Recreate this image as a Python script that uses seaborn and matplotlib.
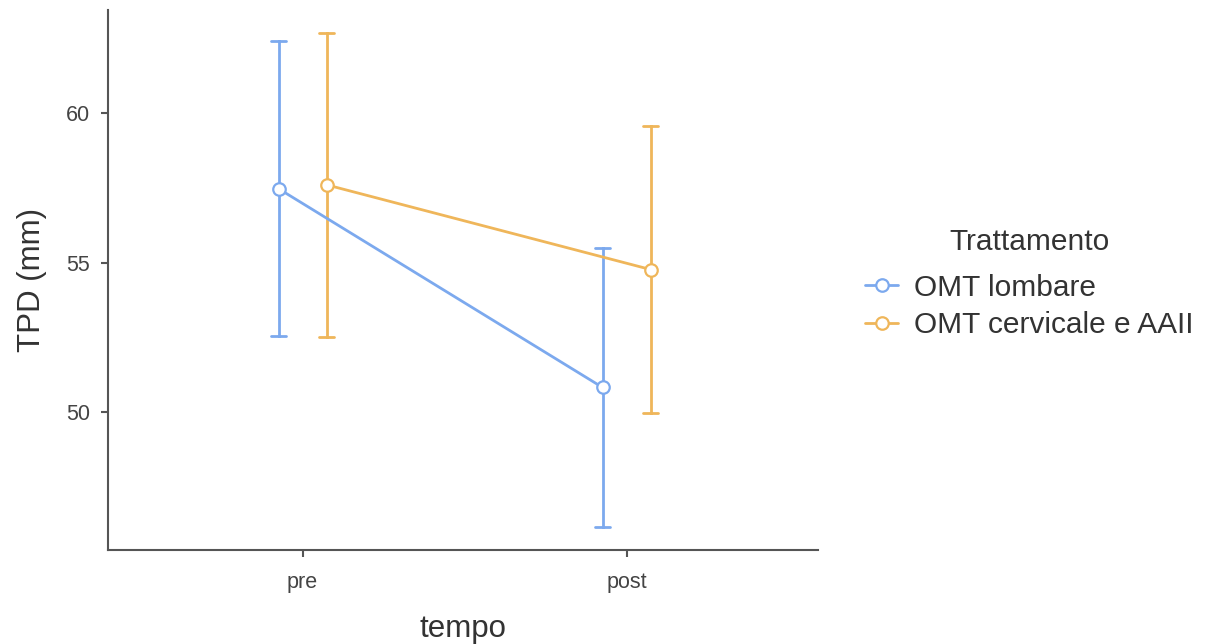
import matplotlib
matplotlib.use("Agg")
import matplotlib.pyplot as plt
from matplotlib.lines import Line2D
import seaborn as sns
import pandas as pd

# values (mean and half-width of the error bar)
tempo = ["pre", "post"]
gruppi = ["OMT lombare", "OMT cervicale e AAII"]
media_lombare = [57.47, 50.83]
media_cervicale = [57.60, 54.77]
err_lombare = [4.92, 4.65]
err_cervicale = [5.07, 4.80]

colori = ["#7ca9ee", "#efb65a"]

# two rows per cell (mean - err, mean + err): mean gives the point, pi 100 gives the bar
rows = []
for g, medie, errs in [(gruppi[0], media_lombare, err_lombare),
                       (gruppi[1], media_cervicale, err_cervicale)]:
    for t, m, e in zip(tempo, medie, errs):
        rows.append({"tempo": t, "Trattamento": g, "TPD": m - e})
        rows.append({"tempo": t, "Trattamento": g, "TPD": m + e})
df = pd.DataFrame(rows)

sns.set_style("ticks")
plt.rcParams["font.family"] = ["Liberation Sans", "DejaVu Sans"]

fig = plt.figure(figsize=(12.15, 6.44), dpi=100)
ax = fig.add_axes([0.089, 0.146, 0.584, 0.838])

sns.pointplot(data=df, x="tempo", y="TPD", hue="Trattamento", order=tempo,
              hue_order=gruppi, palette=colori, estimator="mean",
              errorbar=("pi", 100), dodge=0.148, capsize=0.045,
              err_kws={"linewidth": 2}, linewidth=2,
              markersize=9, markeredgewidth=1.6, legend=False, ax=ax)

# white-filled markers as in the reference
for ln in ax.lines:
    if ln.get_marker() not in (None, "None", ""):
        ln.set_markerfacecolor("white")
        ln.set_zorder(5)

ax.set_xlim(-0.6, 1.59)
ax.set_ylim(45.4, 63.43)
ax.set_yticks([50, 55, 60])

for side in ["top", "right"]:
    ax.spines[side].set_visible(False)
for side in ["left", "bottom"]:
    ax.spines[side].set_color("#555555")
    ax.spines[side].set_linewidth(1.5)
ax.tick_params(colors="#555555", labelcolor="#444444", labelsize=15.5,
               length=5, width=1.5)
ax.tick_params(axis="x", pad=11)
ax.tick_params(axis="y", pad=8)

ax.set_xlabel("tempo", fontsize=22.5, color="#333333", labelpad=15)
ax.set_ylabel("TPD (mm)", fontsize=22.5, color="#333333", labelpad=14)

handles = [Line2D([], [], color=c, marker="o", markerfacecolor="white",
                  markersize=9, markeredgewidth=1.6, linewidth=2)
           for c in colori]
leg = fig.legend(handles, gruppi, title="Trattamento", loc="center left",
                 bbox_to_anchor=(0.69, 0.56), frameon=False, fontsize=21.5,
                 title_fontsize=21.5, handlelength=1.1, handletextpad=0.55,
                 labelspacing=0.32)
leg._legend_box.sep = 13
for t in leg.get_texts():
    t.set_color("#333333")
leg.get_title().set_color("#333333")

fig.savefig("out.png", dpi=100)
